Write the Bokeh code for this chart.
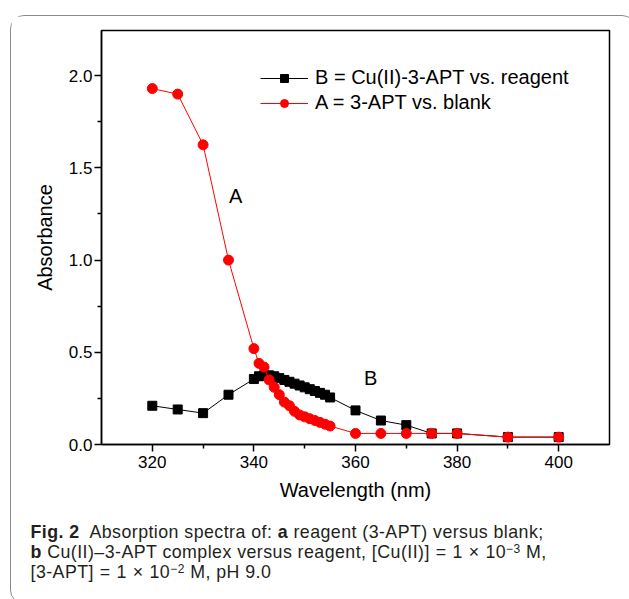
from bokeh.plotting import figure
from bokeh.layouts import column
from bokeh.models import (Range1d, FixedTicker, Label, Legend, LegendItem,
                          NumeralTickFormatter, Div)
from bokeh.embed import file_html
from bokeh.resources import INLINE

# ---- data ----
wavelength = [320, 325, 330, 335, 340, 341, 342, 343, 344, 345, 346, 347, 348,
              349, 350, 351, 352, 353, 354, 355, 360, 365, 370, 375, 380, 390, 400]
absorb_a = [1.93, 1.90, 1.625, 1.00, 0.52, 0.44, 0.42, 0.35, 0.31, 0.27, 0.23,
            0.21, 0.18, 0.16, 0.15, 0.14, 0.13, 0.12, 0.11, 0.10, 0.06, 0.06,
            0.06, 0.06, 0.06, 0.04, 0.04]
absorb_b = [0.21, 0.19, 0.17, 0.27, 0.355, 0.37, 0.375, 0.375, 0.37, 0.36, 0.35,
            0.34, 0.33, 0.32, 0.31, 0.30, 0.29, 0.28, 0.27, 0.255, 0.185, 0.13,
            0.105, 0.06, 0.06, 0.04, 0.04]
x_ticks = [320, 340, 360, 380, 400]
x_minor = [330, 350, 370, 390]
y_ticks = [0.0, 0.5, 1.0, 1.5, 2.0]
y_minor = [0.25, 0.75, 1.25, 1.75]
label_b = "B = Cu(II)-3-APT vs. reagent"
label_a = "A = 3-APT vs. blank"

FONT = "Liberation Sans"

p = figure(width=614, height=490, output_backend="svg", toolbar_location=None,
           x_range=Range1d(310, 410), y_range=Range1d(0, 2.245),
           min_border_left=90, min_border_right=16, min_border_top=14,
           min_border_bottom=62)
p.grid.visible = False
p.background_fill_color = "white"
p.border_fill_color = "white"
p.outline_line_color = "black"
p.outline_line_width = 1.5

p.xaxis.ticker = FixedTicker(ticks=x_ticks, minor_ticks=x_minor)
p.yaxis.ticker = FixedTicker(ticks=y_ticks, minor_ticks=y_minor)
p.yaxis.formatter = NumeralTickFormatter(format="0.0")
for ax in (p.xaxis, p.yaxis):
    ax.axis_line_width = 1.5
    ax.axis_line_color = "black"
    ax.major_tick_line_width = 1.5
    ax.minor_tick_line_width = 1.5
    ax.major_tick_in = 0
    ax.major_tick_out = 7
    ax.minor_tick_in = 0
    ax.minor_tick_out = 4
    ax.major_label_text_font = FONT
    ax.major_label_text_font_size = "17px"
    ax.major_label_text_color = "black"
    ax.axis_label_text_font = FONT
    ax.axis_label_text_font_size = "20px"
    ax.axis_label_text_font_style = "normal"
    ax.axis_label_text_color = "black"
p.xaxis.major_label_standoff = 4
p.yaxis.major_label_standoff = 2
p.xaxis.axis_label = "Wavelength (nm)"
p.yaxis.axis_label = "Absorbance"
p.xaxis.axis_label_standoff = 8
p.yaxis.axis_label_standoff = 10

lb = p.line(wavelength, absorb_b, line_color="black", line_width=1)
sb = p.scatter(wavelength, absorb_b, marker="square", size=9, color="black")
la = p.line(wavelength, absorb_a, line_color="red", line_width=1)
sa = p.scatter(wavelength, absorb_a, marker="circle", size=10, color="red")

legend = Legend(items=[LegendItem(label=label_b, renderers=[lb, sb]),
                       LegendItem(label=label_a, renderers=[la, sa])],
                location=(159, 330), padding=0, margin=0, spacing=2,
                glyph_width=48, glyph_height=20, label_height=20,
                label_standoff=7, label_text_font=FONT,
                label_text_font_size="20px", label_text_color="black",
                border_line_alpha=0, background_fill_alpha=0)
p.add_layout(legend)

p.add_layout(Label(x=336.4, y=1.35, text="A", text_font=FONT,
                   text_font_size="20px", text_align="center",
                   text_baseline="middle", text_color="black"))
p.add_layout(Label(x=363, y=0.363, text="B", text_font=FONT,
                   text_font_size="20px", text_align="center",
                   text_baseline="middle", text_color="black"))

sup = "font-size:12px;vertical-align:5px;line-height:0"
op = "margin:0 0.5px"
line_css = "height:20px;line-height:20px;white-space:nowrap"
caption_html = (
    "<div style=\"font-family:'Liberation Sans';font-size:17.8px;"
    "letter-spacing:0.45px;color:#231f20;padding:11px 0 0 14.5px\">"
    f"<div style=\"{line_css}\"><b>Fig. 2</b>&nbsp; Absorption spectra of: "
    "<b>a</b> reagent (3-APT) versus blank;</div>"
    f"<div style=\"{line_css}\"><b>b</b> Cu(II)–3-APT complex versus reagent, "
    f"[Cu(II)] <span style=\"{op}\">=</span> 1 <span style=\"{op}\">×</span> 10"
    f"<span style=\"{sup}\">−3</span> M,</div>"
    f"<div style=\"{line_css}\">[3-APT] <span style=\"{op}\">=</span> 1 "
    f"<span style=\"{op}\">×</span> 10<span style=\"{sup}\">−2</span> M, pH 9.0</div>"
    "</div>"
)
cap = Div(text=caption_html, width=614, height=87)

layout = column(p, cap, spacing=0,
                styles={"border": "1.5px solid #8a8a8a",
                        "border-radius": "14px",
                        "margin-left": "10px", "margin-top": "15px",
                        "background": "white"})

open("out.html", "w").write(file_html(layout, INLINE))
